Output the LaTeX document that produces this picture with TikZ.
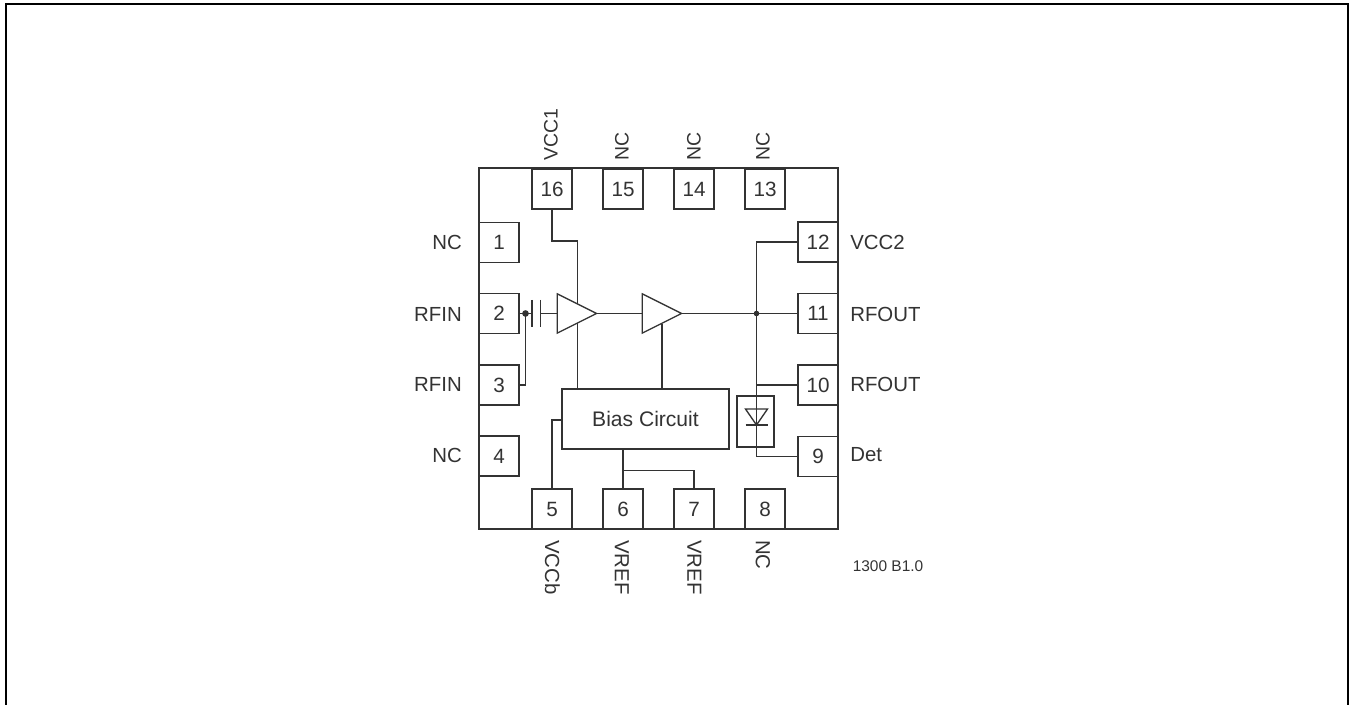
\documentclass[tikz,border=0pt]{standalone}
\usepackage{fontspec}
\setmainfont{Liberation Sans}
\usetikzlibrary{shapes.geometric,backgrounds}
\definecolor{ink}{HTML}{333333}
\tikzset{
  x=0.75pt,y=-0.75pt,
  pinbox/.style={draw=ink,line width=1pt,fill=white,minimum width=30pt,minimum height=30pt,inner sep=0,outer sep=0,text=ink,font=\fontsize{15.5}{17}\selectfont},
  wire/.style={draw=ink,line width=1pt},
  lab/.style={text=ink,inner sep=0,font=\fontsize{15.3}{17}\selectfont},
  toplab/.style={lab,rotate=90,anchor=west,font=\fontsize{14.6}{17}\selectfont},
  amp/.style={draw=ink,line width=1pt,fill=white,shape=isosceles triangle,isosceles triangle stretches,minimum width=29.5pt,minimum height=29.5pt,inner sep=0,outer sep=0,anchor=apex},
  dot/.style={circle,fill=ink,inner sep=0,outer sep=0},
}
\begin{document}
\begin{tikzpicture}
\useasboundingbox (0,0) rectangle (1350,705);
\draw[black,line width=1.5pt] (6,705) -- (6,4) -- (1347.5,4) -- (1347.5,705);
\node[draw=ink,line width=1.3pt,minimum width=269.25pt,minimum height=270.75pt,inner sep=0,outer sep=0] (chip) at (658.5,348.5) {};
% pins
\node[pinbox] (p1) at (499,242.5) {1};
\node[pinbox] (p2) at (499,313.5) {2};
\node[pinbox] (p3) at (499,385) {3};
\node[pinbox] (p4) at (499,456) {4};
\node[pinbox] (p5) at (552,509) {5};
\node[pinbox] (p6) at (623,509) {6};
\node[pinbox] (p7) at (694,509) {7};
\node[pinbox] (p8) at (765,509) {8};
\node[pinbox] (p9) at (818,456.5) {9};
\node[pinbox] (p10) at (818,385) {10};
\node[pinbox] (p11) at (818,313.5) {11};
\node[pinbox] (p12) at (818,242) {12};
\node[pinbox] (p13) at (765,189) {13};
\node[pinbox] (p14) at (694,189) {14};
\node[pinbox] (p15) at (623,189) {15};
\node[pinbox] (p16) at (552,189) {16};
% blocks
\node[draw=ink,line width=1pt,fill=white,minimum width=125.25pt,minimum height=45pt,inner sep=0,outer sep=0,text=ink,font=\fontsize{15.8}{17}\selectfont] (bias) at (645.5,419) {Bias Circuit};
\node[amp] (a1) at (596.5,313.5) {};
\node[amp] (a2) at (681.5,313.5) {};
\node[draw=ink,line width=1pt,minimum width=27.75pt,minimum height=38.25pt,inner sep=0,outer sep=0] (detbox) at (755.5,421.5) {};
% junctions and bends
\coordinate (j2) at (525.5,313.5);
\coordinate (j3) at (525.5,385);
\coordinate (c1t) at (532,300);
\coordinate (c1b) at (532,327);
\coordinate (c2t) at (540.5,300);
\coordinate (c2b) at (540.5,327);
\coordinate (c1m) at (532,313.5);
\coordinate (c2m) at (540.5,313.5);
\coordinate (t16) at (577.5,241);
\coordinate (bt16) at (577.5,389);
\coordinate (a2b) at (662,324);
\coordinate (bta2) at (662,389);
\coordinate (jr) at (756.5,313.5);
\coordinate (tr) at (756.5,242);
\coordinate (br) at (756.5,456.5);
\coordinate (j10) at (756.5,385);
\coordinate (b5) at (552,420);
\coordinate (b5r) at (562,420);
\coordinate (j6) at (623,470.5);
\coordinate (b6) at (623,449);
\coordinate (b7) at (694,470.5);
\coordinate (dl) at (745.5,409);
\coordinate (dr) at (767.5,409);
\coordinate (dt) at (756.5,425);
\coordinate (dbl) at (745.5,425);
\coordinate (dbr) at (767.5,425);
\begin{scope}[on background layer]
\draw[wire] (p2.east) -- (c1m);
\draw[wire] (c2m) -- (a1.west |- c2m);
\draw[wire] (j2) -- (j3) -- (j3 -| p3.east);
\draw[wire] (p16.south) |- (t16) -- (bt16);
\draw[wire] (a1.apex) -- (a2.west |- a1.apex);
\draw[wire] (a2b) -- (bta2);
\draw[wire] (a2.apex) -- (p11.west);
\draw[wire] (p12.west) -- (tr) -- (br) -- (p9.west);
\draw[wire] (j10) -- (p10.west);
\draw[wire] (p5.north) -- (b5) -- (b5r);
\draw[wire] (b6) -- (p6.north);
\draw[wire] (j6) -- (b7) -- (p7.north);
\end{scope}
\draw[wire] (c1t) -- (c1b);
\draw[wire] (c2t) -- (c2b);
\draw[wire] (dl) -- (dr) -- (dt) -- cycle;
\draw[wire] (dbl) -- (dbr);
\node[dot,minimum size=5pt] (d1) at (j2) {};
\node[dot,minimum size=4.2pt] (d2) at (jr) {};
% labels
\node[lab,anchor=east] (l1) at (462,242) {NC};
\node[lab,anchor=east] (l2) at (462,314) {RFIN};
\node[lab,anchor=east] (l3) at (462,384) {RFIN};
\node[lab,anchor=east] (l4) at (462,455) {NC};
\node[lab,anchor=west] (l12) at (850,242) {VCC2};
\node[lab,anchor=west] (l11) at (850,314) {RFOUT};
\node[lab,anchor=west] (l10) at (850,384) {RFOUT};
\node[lab,anchor=west] (l9) at (850,455) {Det};
\node[toplab] (l16) at (551,161) {VCC1};
\node[toplab] (l15) at (622,161) {NC};
\node[toplab] (l14) at (694,161) {NC};
\node[toplab] (l13) at (763,161) {NC};
\node[lab,rotate=-90,anchor=west] (l5) at (552.5,540) {VCCb};
\node[lab,rotate=-90,anchor=west] (l6) at (622,540) {VREF};
\node[lab,rotate=-90,anchor=west] (l7) at (694.5,540) {VREF};
\node[lab,rotate=-90,anchor=west] (l8) at (763,540) {NC};
\node[lab,anchor=west,font=\fontsize{11.6}{13}\selectfont] (code) at (852.5,566.5) {1300 B1.0};
\end{tikzpicture}
\end{document}
